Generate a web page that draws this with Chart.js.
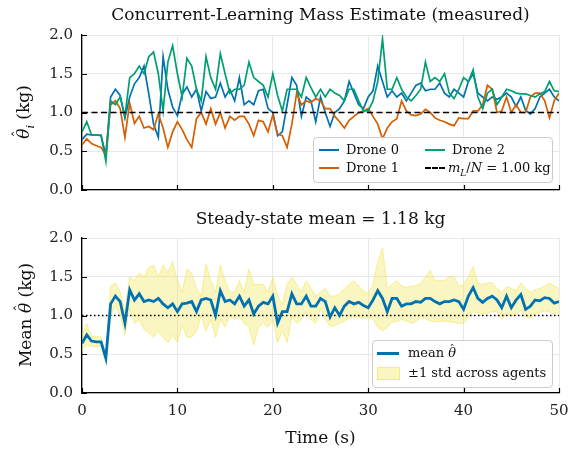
<!DOCTYPE html>
<html>
<head>
<meta charset="utf-8">
<script src="https://cdn.jsdelivr.net/npm/chart.js@4.4.1/dist/chart.umd.min.js"></script>
<style>
  body { margin: 0; background: #fff; }
  #fig { position: relative; width: 580px; height: 451px; font-family: "DejaVu Serif", serif; color: #111; overflow: hidden; }
  #fig canvas { position: absolute; left: 0; }
  .txt { position: absolute; white-space: nowrap; line-height: 20px; }
  .title { left: 82px; width: 477px; text-align: center; font-size: 17px; }
  .ylab { font-size: 17px; transform: translate(-50%, -50%) rotate(-90deg); }
  .legend { position: absolute; border: 1px solid #cccccc; border-radius: 4px; background: rgba(255,255,255,0.82); font-size: 13px; }
  .legend .it { position: absolute; white-space: nowrap; line-height: 16px; }
  .legend .ln { position: absolute; height: 0; }
  .hat { position: relative; display: inline-block; font-style: italic; }
  .hat .h { position: absolute; left: 0.12em; top: -0.42em; font-style: normal; font-size: 0.8em; }
</style>
</head>
<body>
<div id="fig">
  <canvas id="topChart" width="580" height="208" style="top:0"></canvas>
  <canvas id="botChart" width="580" height="251" style="top:200px"></canvas>

  <div class="txt title" style="top:4px">Concurrent-Learning Mass Estimate (measured)</div>
  <div class="txt title" style="top:208px">Steady-state mean = 1.18 kg</div>
  <div class="txt" style="left:82px; width:477px; text-align:center; top:427px; font-size:17px">Time (s)</div>
  <div class="txt ylab" style="left:27px; top:112px"><span class="hat">θ<span class="h">ˆ</span></span><sub style="font-size:11px"><i>i</i></sub> (kg)</div>
  <div class="txt ylab" style="left:25px; top:315px">Mean <span class="hat">θ<span class="h">ˆ</span></span> (kg)</div>

  <div class="legend" style="left:313px; top:137px; width:238px; height:44px">
    <div class="ln" style="left:5px; top:11px; width:20px; border-top:2px solid #0072B2"></div>
    <div class="it" style="left:32px; top:4px">Drone 0</div>
    <div class="ln" style="left:111px; top:11px; width:20px; border-top:2px solid #009E73"></div>
    <div class="it" style="left:138px; top:4px">Drone 2</div>
    <div class="ln" style="left:5px; top:29px; width:20px; border-top:2px solid #D55E00"></div>
    <div class="it" style="left:32px; top:22px">Drone 1</div>
    <div class="ln" style="left:111px; top:29px; width:20px; border-top:2px dashed #000"></div>
    <div class="it" style="left:134px; top:22px"><i>m</i><sub style="font-size:9px"><i>L</i></sub>/<i>N</i> = 1.00 kg</div>
  </div>

  <div class="legend" style="left:372px; top:340px; width:179px; height:46px">
    <div class="ln" style="left:4px; top:11px; width:22px; border-top:3px solid #0072B2"></div>
    <div class="it" style="left:35px; top:4px">mean <span class="hat">θ<span class="h">ˆ</span></span></div>
    <div class="ln" style="left:4px; top:26px; width:21px; height:11px; background:rgba(240,228,66,0.35); border:1px solid rgba(240,228,66,0.5)"></div>
    <div class="it" style="left:35px; top:24px">±1 std across agents</div>
  </div>
</div>

<script>
// sample times (s)
const timeS = [
  0, 0.5, 1, 1.5, 2, 2.5, 3, 3.5, 4, 4.5,
  5, 5.5, 6, 6.5, 7, 7.5, 8, 8.5, 9, 9.5,
  10, 10.5, 11, 11.5, 12, 12.5, 13, 13.5, 14, 14.5,
  15, 15.5, 16, 16.5, 17, 17.5, 18, 18.5, 19, 19.5,
  20, 20.5, 21, 21.5, 22, 22.5, 23, 23.5, 24, 24.5,
  25, 25.5, 26, 26.5, 27, 27.5, 28, 28.5, 29, 29.5,
  30, 30.5, 31, 31.5, 32, 32.5, 33, 33.5, 34, 34.5,
  35, 35.5, 36, 36.5, 37, 37.5, 38, 38.5, 39, 39.5,
  40, 40.5, 41, 41.5, 42, 42.5, 43, 43.5, 44, 44.5,
  45, 45.5, 46, 46.5, 47, 47.5, 48, 48.5, 49, 49.5,
  50
];

const drone0 = [
  0.65, 0.72, 0.71, 0.71, 0.70, 0.45, 1.20, 1.30, 1.22, 0.93,
  1.20, 1.37, 1.45, 1.60, 1.24, 0.85, 0.68, 1.72, 1.30, 1.07,
  0.96, 1.24, 1.33, 1.20, 1.30, 1.02, 1.27, 1.18, 1.20, 1.38,
  1.20, 1.30, 1.15, 1.45, 1.10, 1.15, 1.10, 1.28, 1.30, 1.05,
  1.00, 0.70, 0.75, 1.10, 1.45, 1.35, 0.95, 1.20, 1.15, 0.88,
  1.20, 1.00, 0.82, 1.00, 1.05, 1.15, 1.40, 1.25, 1.10, 1.05,
  1.20, 1.28, 1.60, 1.40, 1.20, 1.28, 1.20, 1.25, 1.15, 1.25,
  1.35, 1.38, 1.28, 1.30, 1.30, 1.38, 1.25, 1.20, 1.30, 1.25,
  1.20, 1.40, 1.50, 1.25, 1.20, 1.15, 1.20, 1.17, 1.20, 1.25,
  1.20, 1.08, 1.20, 1.03, 0.98, 1.05, 1.20, 1.25, 1.30, 1.20,
  1.15
];

const drone1 = [
  0.58, 0.66, 0.60, 0.57, 0.55, 0.45, 1.10, 1.15, 1.05, 0.68,
  1.12, 0.86, 0.95, 0.80, 0.82, 0.78, 0.98, 0.80, 0.55, 0.75,
  0.88, 0.78, 0.65, 0.55, 0.92, 1.00, 0.85, 1.05, 0.85, 1.00,
  0.80, 0.95, 0.90, 0.95, 0.95, 0.85, 0.70, 0.90, 0.88, 0.75,
  0.97, 0.72, 0.70, 0.55, 0.85, 1.25, 1.10, 1.15, 1.13, 1.18,
  1.15, 1.05, 1.05, 0.95, 0.88, 0.80, 0.90, 0.95, 1.00, 1.02,
  1.05, 0.95, 0.85, 0.66, 0.80, 0.88, 0.92, 1.15, 1.02, 0.97,
  0.96, 0.98, 1.04, 1.00, 0.93, 0.90, 0.88, 0.85, 0.83, 0.93,
  0.92, 0.92, 1.02, 1.02, 1.10, 1.35, 1.30, 1.00, 1.02, 1.20,
  1.00, 1.10, 1.00, 1.00, 1.20, 1.25, 1.25, 1.15, 0.93, 1.15,
  1.25
];

const drone2 = [
  0.75, 0.88, 0.71, 0.71, 0.71, 0.37, 1.15, 1.10, 1.20, 0.95,
  1.45, 1.50, 1.60, 1.50, 1.72, 1.78, 1.50, 1.02, 1.65, 1.86,
  1.50, 1.20, 1.70, 1.60, 1.30, 1.15, 1.72, 1.45, 1.30, 1.76,
  1.50, 1.25, 1.30, 1.30, 1.35, 1.65, 1.45, 1.40, 1.35, 1.20,
  1.50, 1.22, 1.02, 1.30, 1.30, 1.30, 1.20, 1.45, 1.32, 1.20,
  1.30, 1.20, 1.30, 1.25, 1.22, 1.15, 1.30, 1.30, 1.15, 1.02,
  1.02, 1.15, 1.40, 1.95, 1.30, 1.30, 1.45, 1.30, 1.20, 1.15,
  1.22, 1.30, 1.65, 1.40, 1.45, 1.40, 1.50, 1.25, 1.18, 1.30,
  1.45, 1.40, 1.55, 1.20, 1.05, 1.25, 1.30, 1.10, 1.20, 1.30,
  1.28, 1.25, 1.24, 1.24, 1.22, 1.20, 1.24, 1.27, 1.40, 1.28,
  1.27
];

const meanTheta = [
  0.64, 0.75, 0.67, 0.66, 0.66, 0.45, 1.15, 1.25, 1.18, 0.90,
  1.33, 1.20, 1.28, 1.18, 1.20, 1.18, 1.22, 1.15, 1.10, 1.15,
  1.05, 1.15, 1.16, 1.18, 1.05, 1.20, 1.22, 1.20, 1.00, 1.32,
  1.18, 1.20, 1.15, 1.25, 1.12, 1.20, 1.02, 1.12, 1.17, 1.15,
  1.25, 0.90, 1.05, 1.05, 1.28, 1.15, 1.15, 1.25, 1.12, 1.12,
  1.22, 1.18, 0.98, 1.10, 1.00, 1.12, 1.18, 1.15, 1.17, 1.13,
  1.10, 1.20, 1.32, 1.22, 1.05, 1.22, 1.22, 1.12, 1.15, 1.15,
  1.18, 1.17, 1.22, 1.22, 1.18, 1.15, 1.18, 1.18, 1.20, 1.18,
  1.08, 1.25, 1.36, 1.22, 1.17, 1.22, 1.25, 1.20, 1.10, 1.25,
  1.10, 1.20, 1.27, 1.08, 1.12, 1.20, 1.19, 1.23, 1.22, 1.16,
  1.18
];

const stdUpper = [
  0.75, 0.90, 0.73, 0.73, 0.72, 0.47, 1.38, 1.42, 1.30, 1.05,
  1.50, 1.45, 1.55, 1.50, 1.62, 1.65, 1.50, 1.65, 1.55, 1.70,
  1.45, 1.30, 1.60, 1.55, 1.35, 1.25, 1.67, 1.45, 1.30, 1.65,
  1.45, 1.30, 1.30, 1.45, 1.30, 1.60, 1.40, 1.40, 1.40, 1.30,
  1.50, 1.25, 1.15, 1.40, 1.50, 1.40, 1.30, 1.45, 1.35, 1.25,
  1.30, 1.35, 1.25, 1.25, 1.28, 1.35, 1.40, 1.45, 1.38, 1.32,
  1.28, 1.40, 1.70, 1.87, 1.35, 1.40, 1.45, 1.38, 1.36, 1.38,
  1.38, 1.42, 1.50, 1.58, 1.45, 1.45, 1.45, 1.50, 1.50, 1.38,
  1.40, 1.50, 1.63, 1.42, 1.40, 1.42, 1.42, 1.35, 1.30, 1.37,
  1.35, 1.32, 1.42, 1.35, 1.30, 1.33, 1.35, 1.38, 1.42, 1.38,
  1.35
];

const stdLower = [
  0.55, 0.62, 0.60, 0.60, 0.60, 0.38, 1.00, 1.12, 1.00, 0.75,
  1.10, 0.90, 0.95, 0.82, 0.78, 0.72, 0.80, 0.72, 0.65, 0.75,
  0.65, 0.88, 0.72, 0.72, 0.80, 1.00, 0.80, 0.95, 0.72, 0.95,
  0.85, 1.00, 0.95, 0.98, 0.90, 0.85, 0.62, 0.85, 0.90, 0.85,
  0.95, 0.65, 0.80, 0.65, 1.00, 0.90, 0.95, 1.05, 0.95, 0.90,
  1.10, 0.95, 0.86, 0.87, 0.90, 0.93, 0.97, 0.98, 0.98, 0.97,
  0.97, 0.95, 0.85, 0.80, 0.85, 0.92, 0.92, 0.95, 0.93, 0.90,
  0.92, 0.98, 0.96, 0.93, 0.92, 0.92, 0.93, 0.92, 0.91, 0.90,
  0.90, 0.98, 1.05, 1.03, 1.02, 1.03, 1.05, 1.05, 0.95, 1.02,
  1.00, 1.00, 1.07, 0.98, 0.97, 1.02, 1.04, 1.06, 1.05, 1.02,
  1.05
];

const refMass = 1.0;          // m_L / N
const xTicks = [0, 10, 20, 30, 40, 50];
const yTicks = [0, 0.5, 1.0, 1.5, 2.0];

const pts = (ys) => ys.map((y, i) => ({ x: timeS[i], y: y }));
const refLine = [{ x: xTicks[0], y: refMass }, { x: xTicks[xTicks.length - 1], y: refMass }];

// short tick marks pointing into the axes, like the matplotlib style
const inwardTicks = {
  id: 'inwardTicks',
  afterDraw(chart) {
    const { ctx, chartArea: a, scales } = chart;
    ctx.save();
    ctx.strokeStyle = '#000';
    ctx.lineWidth = 1.2;
    ctx.beginPath();
    xTicks.forEach(v => {
      const px = Math.round(scales.x.getPixelForValue(v)) + 0.5;
      ctx.moveTo(px, a.bottom);
      ctx.lineTo(px, a.bottom - 5);
    });
    yTicks.forEach(v => {
      const py = Math.round(scales.y.getPixelForValue(v)) + 0.5;
      ctx.moveTo(a.left, py);
      ctx.lineTo(a.left + 5, py);
    });
    ctx.stroke();
    ctx.restore();
  }
};

const tickFont = { family: 'DejaVu Serif', size: 15 };

function makeScales(xHeight, showXLabels) {
  return {
    x: {
      type: 'linear', min: 0, max: 50,
      afterBuildTicks: (s) => { s.ticks = xTicks.map(v => ({ value: v })); },
      afterFit: (s) => { s.height = xHeight; },
      grid: { color: '#e8e8e8', lineWidth: 1, drawTicks: false },
      border: { display: true, color: '#000', width: 1.3 },
      ticks: { display: showXLabels, color: '#222', font: tickFont, padding: 9, maxRotation: 0 }
    },
    y: {
      min: 0, max: 2,
      afterBuildTicks: (s) => { s.ticks = yTicks.map(v => ({ value: v })); },
      afterFit: (s) => { s.width = 82; },
      grid: { color: '#e8e8e8', lineWidth: 1, drawTicks: false },
      border: { display: true, color: '#000', width: 1.3 },
      ticks: { color: '#222', font: tickFont, padding: 9, callback: (v) => Number(v).toFixed(1) }
    }
  };
}

const common = {
  responsive: false,
  animation: false,
  plugins: { legend: { display: false }, tooltip: { enabled: false } },
  elements: { point: { radius: 0 }, line: { tension: 0 } }
};

new Chart(document.getElementById('topChart'), {
  type: 'line',
  data: {
    datasets: [
      { label: 'Drone 0', data: pts(drone0), borderColor: '#0072B2', borderWidth: 1.7, order: 4 },
      { label: 'Drone 1', data: pts(drone1), borderColor: '#D55E00', borderWidth: 1.7, order: 3 },
      { label: 'Drone 2', data: pts(drone2), borderColor: '#009E73', borderWidth: 1.7, order: 2 },
      { label: 'm_L/N', data: refLine, borderColor: '#000', borderWidth: 1.7, borderDash: [6, 3.5], order: 1 }
    ]
  },
  options: Object.assign({}, common, {
    layout: { padding: { top: 35, right: 21, left: 0, bottom: 0 } },
    scales: makeScales(11, false)
  }),
  plugins: [inwardTicks]
});

new Chart(document.getElementById('botChart'), {
  type: 'line',
  data: {
    datasets: [
      { label: '+std', data: pts(stdUpper), borderColor: 'rgba(240,228,66,0.5)', borderWidth: 1,
        backgroundColor: 'rgba(240,228,66,0.33)', fill: '+1', order: 4 },
      { label: '-std', data: pts(stdLower), borderColor: 'rgba(240,228,66,0.5)', borderWidth: 1, fill: false, order: 3 },
      { label: 'ref', data: refLine, borderColor: '#000', borderWidth: 1.3, borderDash: [1.5, 2.5], order: 2 },
      { label: 'mean', data: pts(meanTheta), borderColor: '#0072B2', borderWidth: 2.8, order: 1 }
    ]
  },
  options: Object.assign({}, common, {
    layout: { padding: { top: 38, right: 21, left: 0, bottom: 0 } },
    scales: makeScales(58, true)
  }),
  plugins: [inwardTicks]
});
</script>
</body>
</html>
